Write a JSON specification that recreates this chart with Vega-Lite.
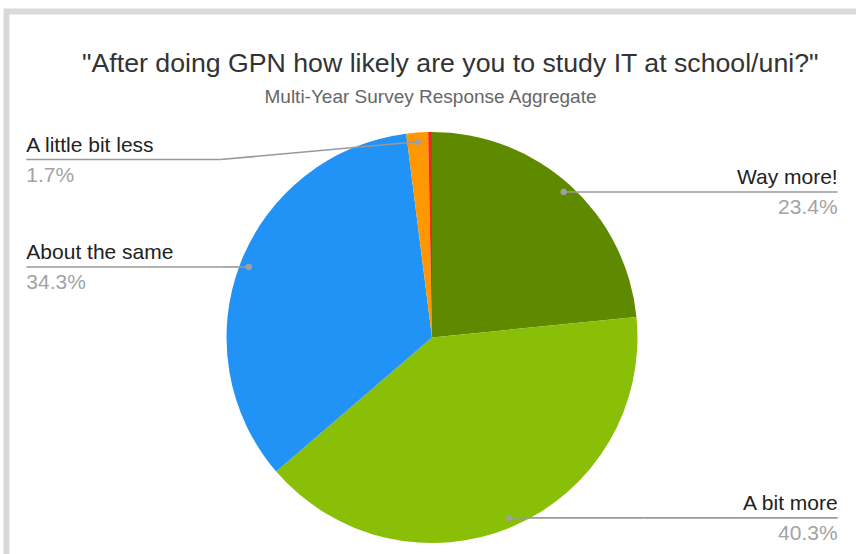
{
  "$schema": "https://vega.github.io/schema/vega-lite/v6.json",
  "width": 856,
  "height": 554,
  "autosize": {"type": "fit", "contains": "padding"},
  "padding": {"left": 6.5, "top": 11.5, "right": 0, "bottom": 0},
  "background": "white",
  "title": {
    "text": "\"After doing GPN how likely are you to study IT at school/uni?\"",
    "anchor": "middle",
    "frame": "group",
    "offset": -66,
    "dx": 19,
    "font": "Liberation Sans",
    "fontSize": 26.7,
    "fontWeight": "normal",
    "color": "#333333"
  },
  "config": {
    "view": {"stroke": "#d9d9d9", "strokeWidth": 6, "strokeDash": [849.5, 1392, 542.5]}
  },
  "data": {
    "values": [
      {"response": "Way more!", "percent": 23.4, "order": 1},
      {"response": "A bit more", "percent": 40.3, "order": 2},
      {"response": "About the same", "percent": 34.3, "order": 3},
      {"response": "A little bit less", "percent": 1.7, "order": 4},
      {"response": "A lot less", "percent": 0.3, "order": 5}
    ]
  },
  "transform": [
    {"joinaggregate": [{"op": "sum", "field": "percent", "as": "total"}]},
    {"window": [{"op": "sum", "field": "percent", "as": "cum"}], "sort": [{"field": "order", "order": "ascending"}], "frame": [null, 0]},
    {"calculate": "(datum.cum - datum.percent / 2) / datum.total * 2 * PI", "as": "mid"},
    {"calculate": "0.955 * sin(datum.mid)", "as": "dotX"},
    {"calculate": "-0.955 * cos(datum.mid)", "as": "dotY"},
    {"calculate": "datum.dotX >= 0 ? 1 : -1", "as": "side"},
    {"calculate": "datum.side * 1.974", "as": "labelX"},
    {"calculate": "datum.side * 1.03", "as": "kinkX"},
    {"calculate": "max(datum.dotY, -0.866)", "as": "labelY"},
    {"calculate": "format(datum.percent, '.1f') + '%'", "as": "pctText"}
  ],
  "layer": [
    {
      "mark": {"type": "arc", "outerRadius": 205.5},
      "encoding": {
        "theta": {"field": "percent", "type": "quantitative", "stack": true},
        "order": {"field": "order", "type": "quantitative"},
        "color": {
          "field": "response",
          "type": "nominal",
          "scale": {
            "domain": ["Way more!", "A bit more", "About the same", "A little bit less", "A lot less"],
            "range": ["#5f8a00", "#8abf08", "#2193f6", "#ff9800", "#ee2a1e"]
          },
          "legend": null
        },
        "x": {"datum": 0, "type": "quantitative", "scale": {"domain": [-2.0706, 2.0633], "nice": false, "zero": false},
          "axis": {"orient": "top", "title": "Multi-Year Survey Response Aggregate", "labels": false, "ticks": false, "domain": false, "grid": false, "titleX": 423.5, "titleY": 91, "titleAlign": "center", "titleBaseline": "alphabetic", "titleAngle": 0, "titleFont": "Liberation Sans", "titleFontSize": 19, "titleFontWeight": "normal", "titleColor": "#666666"}},
        "y": {"datum": 0, "type": "quantitative", "scale": {"domain": [-1.5864, 1.0535], "reverse": true, "nice": false, "zero": false}, "axis": null}
      }
    },
    {
      "transform": [{"filter": "datum.percent >= 1"}],
      "mark": {"type": "rule", "color": "#999999", "strokeWidth": 1.6},
      "encoding": {
        "x": {"field": "labelX", "type": "quantitative", "scale": {"domain": [-2.0706, 2.0633], "nice": false, "zero": false},
          "axis": {"orient": "top", "title": "Multi-Year Survey Response Aggregate", "labels": false, "ticks": false, "domain": false, "grid": false, "titleX": 423.5, "titleY": 91, "titleAlign": "center", "titleBaseline": "alphabetic", "titleAngle": 0, "titleFont": "Liberation Sans", "titleFontSize": 19, "titleFontWeight": "normal", "titleColor": "#666666"}},
        "x2": {"field": "kinkX"},
        "y": {"field": "labelY", "type": "quantitative", "scale": {"domain": [-1.5864, 1.0535], "reverse": true, "nice": false, "zero": false}, "axis": null}
      }
    },
    {
      "transform": [{"filter": "datum.percent >= 1"}],
      "mark": {"type": "rule", "color": "#999999", "strokeWidth": 1.6},
      "encoding": {
        "x": {"field": "kinkX", "type": "quantitative", "scale": {"domain": [-2.0706, 2.0633], "nice": false, "zero": false},
          "axis": {"orient": "top", "title": "Multi-Year Survey Response Aggregate", "labels": false, "ticks": false, "domain": false, "grid": false, "titleX": 423.5, "titleY": 91, "titleAlign": "center", "titleBaseline": "alphabetic", "titleAngle": 0, "titleFont": "Liberation Sans", "titleFontSize": 19, "titleFontWeight": "normal", "titleColor": "#666666"}},
        "x2": {"field": "dotX"},
        "y": {"field": "labelY", "type": "quantitative", "scale": {"domain": [-1.5864, 1.0535], "reverse": true, "nice": false, "zero": false}, "axis": null},
        "y2": {"field": "dotY"}
      }
    },
    {
      "transform": [{"filter": "datum.percent >= 1"}],
      "mark": {"type": "circle", "size": 40, "color": "#a0a0a0", "opacity": 1},
      "encoding": {
        "x": {"field": "dotX", "type": "quantitative", "scale": {"domain": [-2.0706, 2.0633], "nice": false, "zero": false},
          "axis": {"orient": "top", "title": "Multi-Year Survey Response Aggregate", "labels": false, "ticks": false, "domain": false, "grid": false, "titleX": 423.5, "titleY": 91, "titleAlign": "center", "titleBaseline": "alphabetic", "titleAngle": 0, "titleFont": "Liberation Sans", "titleFontSize": 19, "titleFontWeight": "normal", "titleColor": "#666666"}},
        "y": {"field": "dotY", "type": "quantitative", "scale": {"domain": [-1.5864, 1.0535], "reverse": true, "nice": false, "zero": false}, "axis": null}
      }
    },
    {
      "transform": [{"filter": "datum.percent >= 1"}],
      "mark": {"type": "text", "font": "Liberation Sans", "fontSize": 21, "color": "#222222", "baseline": "alphabetic", "dy": -7.5, "align": {"expr": "datum.side > 0 ? 'right' : 'left'"}},
      "encoding": {
        "x": {"field": "labelX", "type": "quantitative", "scale": {"domain": [-2.0706, 2.0633], "nice": false, "zero": false},
          "axis": {"orient": "top", "title": "Multi-Year Survey Response Aggregate", "labels": false, "ticks": false, "domain": false, "grid": false, "titleX": 423.5, "titleY": 91, "titleAlign": "center", "titleBaseline": "alphabetic", "titleAngle": 0, "titleFont": "Liberation Sans", "titleFontSize": 19, "titleFontWeight": "normal", "titleColor": "#666666"}},
        "y": {"field": "labelY", "type": "quantitative", "scale": {"domain": [-1.5864, 1.0535], "reverse": true, "nice": false, "zero": false}, "axis": null},
        "text": {"field": "response", "type": "nominal"}
      }
    },
    {
      "transform": [{"filter": "datum.percent >= 1"}],
      "mark": {"type": "text", "font": "Liberation Sans", "fontSize": 21, "color": "#a3a3a3", "baseline": "alphabetic", "dy": 22, "align": {"expr": "datum.side > 0 ? 'right' : 'left'"}},
      "encoding": {
        "x": {"field": "labelX", "type": "quantitative", "scale": {"domain": [-2.0706, 2.0633], "nice": false, "zero": false},
          "axis": {"orient": "top", "title": "Multi-Year Survey Response Aggregate", "labels": false, "ticks": false, "domain": false, "grid": false, "titleX": 423.5, "titleY": 91, "titleAlign": "center", "titleBaseline": "alphabetic", "titleAngle": 0, "titleFont": "Liberation Sans", "titleFontSize": 19, "titleFontWeight": "normal", "titleColor": "#666666"}},
        "y": {"field": "labelY", "type": "quantitative", "scale": {"domain": [-1.5864, 1.0535], "reverse": true, "nice": false, "zero": false}, "axis": null},
        "text": {"field": "pctText", "type": "nominal"}
      }
    }
  ]
}
